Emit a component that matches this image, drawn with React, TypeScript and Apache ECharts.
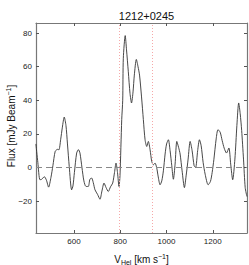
import React, { useEffect, useRef } from "react";
import * as echarts from "echarts";

const velocity = [
  435.5, 444, 453, 461, 472, 481, 490.5, 500.5, 509, 519, 529.5, 535, 542.5, 550, 558, 565.5, 572, 579.7, 590, 595.7,
  602, 611.7, 619.5, 626, 634.6, 643, 652, 662, 669, 676.6, 683.5, 691, 702, 712.6, 721, 730, 739, 748.5, 758, 767.5,
  775.3, 781.8, 788.3, 794.8, 799, 806.5, 810.8, 813.4, 821.6, 827.3, 835, 842.4, 848.9, 855.4, 861, 869.7, 877, 883.5,
  892.2, 900, 907.4, 914.7, 921.6, 929, 936.4, 943.3, 950.6, 958, 963.6, 972.3, 979.6, 986.6, 994, 1000.4, 1008.2,
  1015.6, 1022.9, 1029.8, 1037.2, 1044.6, 1052.3, 1058.9, 1067.5, 1077.5, 1084.8, 1093.5, 1102.2, 1110.8, 1119.5, 1126,
  1134.7, 1142.4, 1149.8, 1158.4, 1167.1, 1180, 1190, 1197.4, 1204.7, 1214.7, 1222.5, 1232, 1240.7, 1249.4, 1259.3,
  1269.7, 1277.5, 1286.2, 1295.7, 1304.3, 1312.1, 1318.6, 1325, 1332.9, 1340.2, 1347.6,
];
const flux = [
  14, 3, -7.3, -7, -5.5, -7.5, -11.7, -6, 1, 9.6, 10.8, 10.5, 16.5, 24, 30, 25, 14, 0.6, -13.3, -11,
  -3, 8.6, 10.6, 8.6, 0, -8, -11.3, -11.3, -7, -6.3, -9, -13.3, -16, -18.9, -14, -9.3, -12, -14.3, -11.5, -9.3,
  -3, 2.6, -3, -11.3, -5, 28.5, 40, 65, 78.5, 70, 57, 44, 38.4, 45, 55, 64.3, 60, 55,
  42, 28.5, 16.5, 12.5, 15.5, 10.6, 3.5, 1.6, 2.6, -0.4, -5, -10.3, -8, -2, 8, 14, 16.5,
  10, 1, -7, 2, 15.5, 12, 8, -2, -12, -5, 5, 15.5, 10, 1, 0,
  10, 16.5, 13, 3, -4, -10.3, -8.3, -3, 4.6, 17, 22.5, 21, 16, 11.5, 8.6,
  11.6, 2, -7.3, 5, 25, 38.4, 32, 22, 5, -12, -17.3,
];
const xTicks = [600, 800, 1000, 1200];
const yTicks = [-20, 0, 20, 40, 60, 80];
const xRange = [436, 1348];
const yRange = [-39, 86];
const velocityLimits = [797, 940];
const title = "1212+0245";
const yTitle = "Flux [mJy Beam{sup|−1}]";
const xTitle = "V{sub|Hel} [km s{sup|−1}]";

export default function App() {
  const ref = useRef<HTMLDivElement>(null);
  useEffect(() => {
    if (!ref.current) return;
    const chart = echarts.init(ref.current, null, { renderer: "svg" });
    const font = "Liberation Sans, Arial, sans-serif";
    const axisLine = { show: true, lineStyle: { color: "#777", width: 1.2 } };
    const mkX = (pos: "bottom" | "top", labels: boolean) => ({
      type: "value",
      position: pos,
      min: xRange[0],
      max: xRange[1],
      axisLine: { ...axisLine, onZero: false },
      axisTick: { show: true, inside: true, length: 3, customValues: xTicks, lineStyle: { color: "#555" } },
      axisLabel: {
        show: labels,
        customValues: xTicks,
        fontSize: 8,
        color: "#222",
        fontFamily: font,
        margin: 4,
        formatter: (v: number) => String(v),
      },
      splitLine: { show: false },
      ...(labels
        ? {
            name: xTitle,
            nameLocation: "middle",
            nameGap: 20,
            nameTextStyle: {
              fontSize: 10,
              color: "#111",
              fontFamily: font,
              rich: {
                sub: { fontSize: 7, verticalAlign: "bottom", padding: [6, 0, 0, 0], fontFamily: font, color: "#111" },
                sup: { fontSize: 7, verticalAlign: "top", padding: [0, 0, 5, 0], fontFamily: font, color: "#111" },
              },
            },
          }
        : {}),
    });
    const mkY = (pos: "left" | "right", labels: boolean) => ({
      type: "value",
      position: pos,
      min: yRange[0],
      max: yRange[1],
      axisLine: { ...axisLine, onZero: false },
      axisTick: { show: true, inside: true, length: 3, customValues: yTicks, lineStyle: { color: "#555" } },
      axisLabel: {
        show: labels,
        customValues: yTicks,
        fontSize: 8,
        color: "#222",
        fontFamily: font,
        margin: 4,
        formatter: (v: number) => (v < 0 ? "−" + Math.abs(v) : String(v)),
      },
      splitLine: { show: false },
    });
    chart.setOption({
      animation: false,
      title: {
        text: title,
        left: 141.5,
        textAlign: "center",
        top: 5,
        textStyle: { fontSize: 11, fontWeight: "normal", color: "#111", fontFamily: font },
      },
      graphic: [
        {
          type: "text",
          x: 11,
          y: 126,
          rotation: Math.PI / 2,
          style: {
            text: yTitle,
            align: "center",
            verticalAlign: "middle",
            fontSize: 10,
            fill: "#111",
            fontFamily: font,
            rich: {
              sup: { fontSize: 7, verticalAlign: "top", padding: [0, 0, 5, 0], fontFamily: font, fill: "#111" },
            },
          },
        },
      ],
      grid: { left: 36, right: 2, top: 23, bottom: 32, containLabel: false, outerBoundsMode: "none" },
      xAxis: [mkX("bottom", true), mkX("top", false)],
      yAxis: [mkY("left", true), mkY("right", false)],
      series: [
        {
          type: "line",
          data: velocity.map((v, i) => [v, flux[i]]),
          showSymbol: false,
          smooth: 0.25,
          lineStyle: { color: "#333", width: 0.9 },
          markLine: {
            silent: true,
            symbol: "none",
            label: { show: false },
            data: [
              { yAxis: 0, lineStyle: { color: "#888", type: [6, 4], width: 1.2 } },
              ...velocityLimits.map((v) => ({
                xAxis: v,
                lineStyle: { color: "#f6a8a8", type: [1, 2], width: 1 },
              })),
            ],
          },
          z: 3,
        },
      ],
    });
    return () => chart.dispose();
  }, []);
  return (
    <div
      ref={ref}
      style={{ position: "absolute", left: 0, top: 0, width: 249, height: 265, overflow: "hidden" }}
    />
  );
}
